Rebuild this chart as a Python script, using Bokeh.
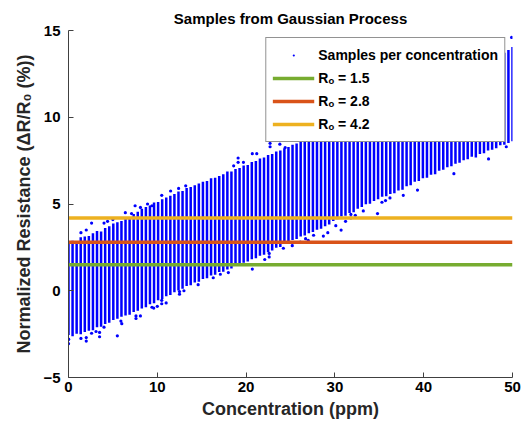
import numpy as np
from bokeh.plotting import figure
from bokeh.models import Legend, LegendItem
from bokeh.embed import file_html
from bokeh.resources import INLINE

# concentration grid (ppm) of the Gaussian-process samples
conc = np.linspace(0, 50, 110)

# lower / upper extent of the dense sample cloud per concentration
lower = [-2.55, -2.62, -2.48, -2.50, -2.38, -2.30, -2.28, -2.10, -2.08, -1.92,
         -1.85, -1.68, -1.62, -1.50, -1.42, -1.38, -1.22, -1.15, -1.02, -0.95,
         -0.78, -0.72, -0.55, -0.48, -0.32, -0.25, -0.08, 0.02, 0.12, 0.28,
         0.32, 0.48, 0.52, 0.68, 0.72, 0.88, 0.92, 1.08, 1.10, 1.22,
         1.28, 1.42, 1.48, 1.62, 1.68, 1.82, 1.88, 2.02, 2.08, 2.22,
         2.32, 2.48, 2.52, 2.72, 2.78, 2.92, 2.98, 3.12, 3.18, 3.32,
         3.38, 3.52, 3.58, 3.72, 3.82, 4.02, 4.12, 4.28, 4.32, 4.48,
         4.52, 4.72, 4.82, 4.98, 5.02, 5.18, 5.28, 5.42, 5.45, 5.58,
         5.62, 5.78, 5.82, 6.02, 6.08, 6.28, 6.32, 6.48, 6.52, 6.68,
         6.72, 6.92, 6.98, 7.12, 7.18, 7.32, 7.38, 7.52, 7.58, 7.72,
         7.68, 7.88, 7.92, 8.08, 8.12, 8.22, 8.38, 8.42, 8.52, 8.62]
upper = [2.75, 2.88, 2.85, 3.08, 3.12, 3.15, 3.32, 3.45, 3.42, 3.62,
         3.72, 3.88, 3.95, 4.02, 4.22, 4.25, 4.42, 4.55, 4.72, 4.82,
         4.92, 5.08, 5.12, 5.28, 5.38, 5.48, 5.58, 5.72, 5.75, 5.92,
         5.98, 6.08, 6.18, 6.28, 6.32, 6.48, 6.52, 6.62, 6.72, 6.88,
         6.88, 7.02, 7.08, 7.22, 7.25, 7.42, 7.48, 7.62, 7.68, 7.82,
         7.88, 8.02, 8.08, 8.22, 8.28, 8.42, 8.48, 8.62, 8.68, 8.82,
         8.88, 9.02, 9.08, 9.22, 9.28, 9.42, 9.48, 9.62, 9.68, 9.82,
         9.88, 10.02, 10.08, 10.22, 10.28, 10.42, 10.48, 10.62, 10.68, 10.82,
         10.88, 11.02, 11.08, 11.22, 11.28, 11.42, 11.48, 11.62, 11.68, 11.82,
         11.88, 12.02, 12.08, 12.22, 12.28, 12.42, 12.48, 12.62, 12.68, 12.82,
         12.88, 13.02, 13.08, 13.22, 13.28, 13.42, 13.52, 13.72, 13.88, 14.05]

# sparse tail samples outside the dense cloud
tail_x = [0.0, 0.0, 1.4, 2.0, 2.0, 2.6, 3.1, 3.5, 3.5, 4.0, 5.5, 5.9, 6.0, 7.6, 7.6, 8.1,
          9.4, 9.6, 10.0, 10.5, 10.5, 11.0, 12.5, 12.5, 13.0, 14.6, 16.3, 17.1, 18.0,
          20.7, 22.1, 22.6, 22.6, 24.2, 25.2, 25.2, 26.1, 26.7, 27.0, 27.6, 28.7, 29.2,
          30.1, 30.7, 31.2, 31.8, 31.8, 32.3, 33.2, 34.8, 35.3, 35.7, 36.2, 37.7, 39.3,
          43.4, 47.3, 49.3,
          1.4, 2.0, 2.6, 4.0, 4.4, 5.0, 6.4, 7.1, 7.5, 8.1, 8.9, 9.4, 10.5, 11.5, 12.4,
          13.2, 18.6, 19.1, 19.1, 19.7, 20.7, 21.2, 22.7, 22.7, 23.8, 24.4, 49.9]
tail_y = [-2.8, -3.05, -2.75, -2.7, -2.9, -2.45, -2.35, -2.4, -2.65, -2.1, -2.6, -1.75, -1.9,
          -1.45, -1.6, -1.45, -0.95, -1.0, -0.9, -0.55, -0.75, -0.7, -0.2, -0.05, 0.0, 0.35,
          0.75, 0.95, 1.05, 1.25, 1.8, 1.95, 2.15, 2.45, 2.6, 2.75, 2.8, 3.0, 2.9, 3.2, 3.15,
          3.35, 3.75, 3.5, 4.0, 4.2, 4.4, 4.35, 4.6, 4.45, 5.1, 5.2, 5.35, 5.5, 5.8, 6.75,
          7.6, 8.3,
          3.35, 3.5, 3.9, 3.9, 4.0, 4.1, 4.5, 4.45, 4.9, 4.8, 5.0, 4.9, 5.5, 5.75, 5.9,
          6.05, 7.2, 7.65, 7.4, 7.4, 7.9, 7.9, 8.5, 8.3, 8.45, 8.25, 14.6]

r0_values = [1.5, 2.8, 4.2]
r0_labels = ["R\u2092 = 1.5", "R\u2092 = 2.8", "R\u2092 = 4.2"]
r0_colors = ["#77AC30", "#D95319", "#EDB120"]

FONT = "Liberation Sans"

p = figure(width=525, height=429, x_range=(0, 50), y_range=(-5, 15),
           output_backend="svg", toolbar_location=None,
           title="Samples from Gaussian Process",
           min_border_left=68, min_border_right=13, min_border_top=30, min_border_bottom=52)
p.outline_line_color = None
p.grid.visible = False
p.background_fill_color = "white"
p.border_fill_color = "white"

p.title.align = "center"
p.title.text_font = FONT
p.title.text_font_style = "bold"
p.title.text_font_size = "15px"
p.title.text_color = "black"
p.title.standoff = 8

for ax in (p.xaxis[0], p.yaxis[0]):
    ax.major_tick_in = 5
    ax.major_tick_out = 0
    ax.minor_tick_line_color = None
    ax.axis_line_color = "#404040"
    ax.major_tick_line_color = "#404040"
    ax.major_label_text_font = FONT
    ax.major_label_text_font_style = "bold"
    ax.major_label_text_font_size = "15px"
    ax.major_label_text_color = "black"
    ax.axis_label_text_font = FONT
    ax.axis_label_text_font_style = "bold"
    ax.axis_label_text_font_size = "18px"
    ax.axis_label_text_color = "#262626"

p.xaxis.ticker = [0, 10, 20, 30, 40, 50]
p.yaxis.ticker = [-5, 0, 5, 10, 15]
p.xaxis.axis_label = "Concentration (ppm)"
p.yaxis.axis_label = "Normalized Resistance (\u0394R/R\u2080 (%))"
p.xaxis.major_label_standoff = 4
p.yaxis.major_label_standoff = 8
p.xaxis.axis_label_standoff = 4
p.yaxis.axis_label_standoff = 6

p.segment(x0=conc, y0=lower, x1=conc, y1=upper, line_color="#0000FF", line_width=2.5)
dots = p.scatter(tail_x, tail_y, size=3.2, fill_color="#0000FF", line_width=0, line_color=None)
# small dot glyph (on an existing tail sample) used for the legend entry
legend_dot = p.scatter(tail_x[:1], tail_y[:1], marker="dot", size=14, line_color="#0000FF",
                       fill_color="#0000FF", line_width=1.5)

line_renderers = []
for v, c in zip(r0_values, r0_colors):
    r = p.line([conc[0], conc[-1]], [v, v], line_color=c, line_width=3.5)
    line_renderers.append(r)

items = [LegendItem(label="Samples per concentration", renderers=[legend_dot])]
for lab, r in zip(r0_labels, line_renderers):
    items.append(LegendItem(label=lab, renderers=[r]))

legend = Legend(items=items, location="top_right",
                label_text_font=FONT, label_text_font_style="bold",
                label_text_font_size="14px", label_text_color="black",
                border_line_color="#262626", border_line_width=1,
                background_fill_color="white", background_fill_alpha=1.0,
                glyph_width=42, glyph_height=22, label_height=22,
                spacing=1, padding=6, margin=7, label_standoff=4)
p.add_layout(legend)

open("out.html", "w").write(file_html(p, INLINE))
